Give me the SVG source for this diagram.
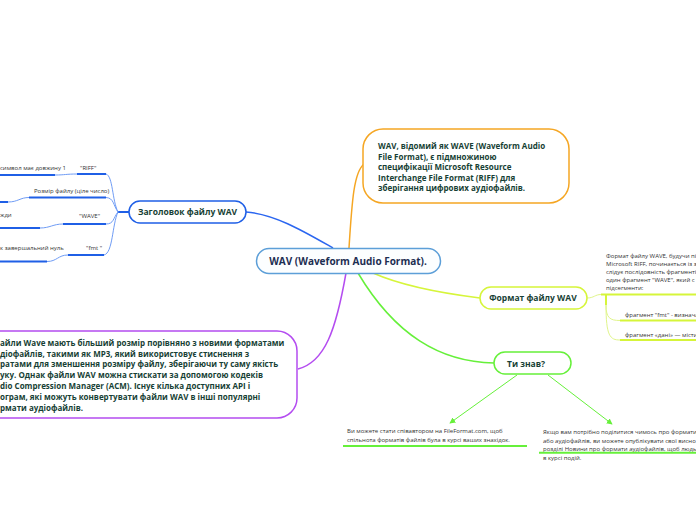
<svg xmlns="http://www.w3.org/2000/svg" width="696" height="520" viewBox="0 0 696 520">
<style>
.bg{fill:#ffffff}
.node{fill:#ffffff;stroke-width:1.5}
.t{font-family:"Open Sans","Noto Sans","Liberation Sans",sans-serif;font-weight:bold;fill:#173f35}
.s{font-family:"Open Sans","Noto Sans","Liberation Sans",sans-serif;font-size:6px;fill:#333333}
.c{fill:none}
.bt{stroke:#1f5fe6;stroke-width:2;fill:none}
.bn{stroke:#6f9cf5;stroke-width:1;fill:none}
.yt{stroke:#d6f53a;stroke-width:2;fill:none}
.yn{stroke:#e0f58a;stroke-width:1;fill:none}
.gt{stroke:#66f03a;stroke-width:2;fill:none}
</style>
<defs>
<marker id="ga" viewBox="0 0 8 8" refX="7" refY="4" markerWidth="6" markerHeight="6" orient="auto" markerUnits="userSpaceOnUse">
<path d="M0,0 L8,4 L0,8 z" fill="#66f03a"/>
</marker>
</defs>
<rect class="bg" x="0" y="0" width="696" height="520"/>

<g id="connectors">
<path class="c" d="M333,248 C305,232 275,214 246,212" stroke="#2b66f0" stroke-width="1.5"/>
<path class="c" d="M349,248 C352,200 354,172 364,164" stroke="#f5a623" stroke-width="1.5"/>
<path class="c" d="M346,273 C336,330 325,362 298,369" stroke="#b44cf0" stroke-width="1.5"/>
<path class="c" d="M373,273 C400,285 440,293 480,298" stroke="#d6f53a" stroke-width="1.5"/>
<path class="c" d="M358,273 C395,335 440,362 494,363" stroke="#66f03a" stroke-width="1.5"/>
<path class="bt" d="M129,212 L118,212"/>
<path class="bn" d="M118,212 C112,200 113,176 106,174"/>
<path class="bn" d="M118,212 C113,205 114,198 106,197.5"/>
<path class="bn" d="M118,212 C113,218 114,224 106,224"/>
<path class="bn" d="M118,212 C112,225 113,253 104,255"/>
<path class="bn" d="M55,175 C65,175 66,174 77,174"/>
<path class="bn" d="M8,202 C18,202 20,197.5 29,197.5"/>
<path class="bn" d="M40,228 C50,228 53,224 63,224"/>
<path class="bn" d="M47,261.5 C57,261.5 58,255 68,255"/>
<path class="yn" d="M587,298 C594,298 595,294.5 601,294.5"/>
<path class="yt" d="M606,294.5 L606,305"/>
<path class="yn" d="M606,305 C606,318 610,320.5 620,320.5"/>
<path class="yn" d="M606,305 C606,336 610,340 620,340"/>
<path d="M517,375 L450,423" stroke="#66f03a" stroke-width="1" fill="none" marker-end="url(#ga)"/>
<path d="M548,375 L612,424" stroke="#66f03a" stroke-width="1" fill="none" marker-end="url(#ga)"/>
</g>

<g id="central">
<rect x="256.5" y="248.5" width="184" height="25" rx="12.5" fill="#fcfeff" stroke="#5d9fd8" stroke-width="1.5"/>
<text x="348" y="265" text-anchor="middle" font-family="'Open Sans','Noto Sans','Liberation Sans',sans-serif" font-weight="bold" font-size="10" fill="#1c2e52">WAV (Waveform Audio Format).</text>
</g>

<g id="header">
<rect class="node" x="129" y="201" width="117" height="22" rx="11" stroke="#1f5fe6"/>
<text class="t" x="187.5" y="215" text-anchor="middle" font-size="8.5">Заголовок файлу WAV</text>
</g>

<g id="riff">
<text class="s" x="80" y="170">"RIFF"</text>
<path class="bt" d="M77,174 L106,174"/>
</g>
<g id="riff-child">
<text class="s" x="0" y="170">символ має довжину 1</text>
<path class="bt" d="M0,175 L55,175"/>
</g>
<g id="size">
<text class="s" x="34" y="193">Розмір файлу (ціле число)</text>
<path class="bt" d="M29,197.5 L106,197.5"/>
</g>
<g id="size-child">
<path class="bt" d="M0,202 L8,202"/>
</g>
<g id="wave">
<text class="s" x="79" y="218">"WAVE"</text>
<path class="bt" d="M63,224 L106,224"/>
</g>
<g id="wave-child">
<text class="s" x="0" y="217">жди</text>
<path class="bt" d="M0,228 L40,228"/>
</g>
<g id="fmt">
<text class="s" x="86" y="250">"fmt "</text>
<path class="bt" d="M68,255 L104,255"/>
</g>
<g id="fmt-child">
<text class="s" x="0" y="250">к завершальний нуль</text>
<path class="bt" d="M0,261.5 L47,261.5"/>
</g>

<g id="wav-info">
<rect class="node" x="363" y="129" width="206" height="74" rx="20" stroke="#f5a623"/>
<text class="t" font-size="8" x="378" y="149">WAV, відомий як WAVE (Waveform Audio</text>
<text class="t" font-size="8" x="378" y="159.5">File Format), є підмножиною</text>
<text class="t" font-size="8" x="378" y="170">специфікації Microsoft Resource</text>
<text class="t" font-size="8" x="378" y="180.5">Interchange File Format (RIFF) для</text>
<text class="t" font-size="8" x="378" y="191">зберігання цифрових аудіофайлів.</text>
</g>

<g id="wave-size">
<rect class="node" x="-30" y="331" width="327" height="87" rx="20" stroke="#b44cf0"/>
<text class="t" font-size="8" x="0" y="345.5">айли Wave мають більший розмір порівняно з новими форматами</text>
<text class="t" font-size="8" x="0" y="356.5">діофайлів, такими як MP3, який використовує стиснення з</text>
<text class="t" font-size="8" x="0" y="367.3">ратами для зменшення розміру файлу, зберігаючи ту саму якість</text>
<text class="t" font-size="8" x="0" y="378">уку. Однак файли WAV можна стискати за допомогою кодеків</text>
<text class="t" font-size="8" x="0" y="389">dio Compression Manager (ACM). Існує кілька доступних API і</text>
<text class="t" font-size="8" x="0" y="400">ограм, які можуть конвертувати файли WAV в інші популярні</text>
<text class="t" font-size="8" x="0" y="411">рмати аудіофайлів.</text>
</g>

<g id="format">
<rect class="node" x="480" y="287" width="107" height="22" rx="11" stroke="#d6f53a"/>
<text class="t" x="533" y="301" text-anchor="middle" font-size="8.5">Формат файлу WAV</text>
</g>
<g id="format-desc">
<text class="s" x="606" y="257.5">Формат файлу WAVE, будучи пі</text>
<text class="s" x="606" y="265.5">Microsoft RIFF, починається із з</text>
<text class="s" x="606" y="273.5">слідує послідовність фрагменті</text>
<text class="s" x="606" y="281.5">один фрагмент "WAVE", який с</text>
<text class="s" x="606" y="290">підсегменти:</text>
<path class="yt" d="M601,294.5 L696,294.5"/>
</g>
<g id="fmt-chunk">
<text class="s" x="625" y="317" font-size="5.4">фрагмент "fmt" - визнача</text>
<path class="yt" d="M620,320.5 L696,320.5"/>
</g>
<g id="data-chunk">
<text class="s" x="625" y="336.5" font-size="5.4">фрагмент «дані» — місти</text>
<path class="yt" d="M620,340 L696,340"/>
</g>

<g id="did-you-know">
<rect class="node" x="494" y="352" width="77" height="22" rx="11" stroke="#66f03a"/>
<text class="t" x="507" y="367" font-size="8.5">Ти знав?</text>
</g>
<g id="coauthor">
<text class="s" x="347" y="433">Ви можете стати співавтором на FileFormat.com, щоб</text>
<text class="s" x="347" y="442">спільнота форматів файлів була в курсі ваших знахідок.</text>
<path class="gt" d="M343,446 L527,446"/>
</g>
<g id="share">
<text class="s" x="543" y="434">Якщо вам потрібно поділитися чимось про формати</text>
<text class="s" x="543" y="442.5">або аудіофайлів, ви можете опублікувати свої висно</text>
<text class="s" x="543" y="451">розділі Новини про формати аудіофайлів, щоб людь</text>
<text class="s" x="543" y="459.5">в курсі подій.</text>
<path class="gt" d="M539,452.7 L696,452.7"/>
</g>
</svg>
